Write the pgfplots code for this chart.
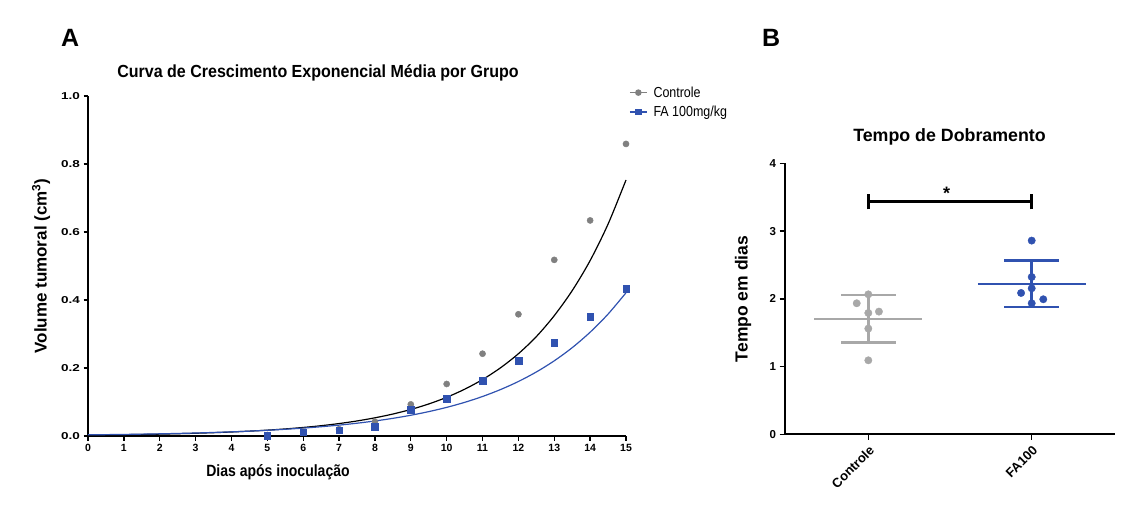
\documentclass[border=0pt]{standalone}
\usepackage{pgfplots}
\pgfplotsset{compat=1.18}
\usepackage{fontspec}
\setmainfont{Liberation Sans}
\newfontfamily\narrowfont{Liberation Sans}[FakeStretch=0.86]
\newfontfamily\titlefont{Liberation Sans}[FakeStretch=0.915]
\newfontfamily\widefont{Liberation Sans}[FakeStretch=1.35]
\definecolor{cgray}{RGB}{128,128,128}
\definecolor{lgray}{RGB}{168,168,168}
\definecolor{cblue}{RGB}{48,82,176}
\begin{document}
\begin{tikzpicture}[x=1pt,y=1pt]
\path (0,0) rectangle (1129,522);
\begin{axis}[at={(88pt,86pt)}, anchor=south west, scale only axis,
  width=538pt, height=340pt, xmin=0, xmax=15, ymin=0, ymax=1,
  axis lines=left, axis line style={-, line width=1.7pt},
  tick align=outside, major tick length=4.5pt, tick style={line width=1.3pt, black},
  xtick={0,...,15}, ytick={0,0.2,0.4,0.6,0.8,1.0},
  clip=false,
  /pgf/number format/assume math mode=true,
  x tick label style={font=\bfseries\fontsize{10.5}{11}\selectfont},
  y tick label style={font=\widefont\bfseries\fontsize{10}{11}\selectfont, /pgf/number format/.cd, fixed, fixed zerofill, precision=1, /tikz/.cd},
  legend style={at={(1.0,1.04)}, anchor=north west, draw=none, fill=none,
    font=\narrowfont\fontsize{14.5}{15}\selectfont, row sep=3.5pt,
    /tikz/every odd column/.append style={column sep=4pt}},
  legend cell align=left,
  legend image code/.code={\draw[#1] (0pt,0pt) -- (17pt,0pt); \draw[#1] plot coordinates {(8.5pt,0pt)};},
]
\addplot[black, line width=1.2pt, smooth, forget plot] coordinates {(0,0.0026)(0.5,0.0031)(1,0.0038)(1.5,0.0046)(2,0.0055)(2.5,0.0067)(3,0.0081)(3.5,0.0098)(4,0.0118)(4.5,0.0143)(5,0.0172)(5.5,0.0208)(6,0.0251)(6.5,0.0303)(7,0.0366)(7.5,0.0442)(8,0.0535)(8.5,0.0646)(9,0.078)(9.5,0.0942)(10,0.1138)(10.5,0.1375)(11,0.166)(11.5,0.2005)(12,0.242)(12.5,0.2923)(13,0.354)(13.5,0.4276)(14,0.516)(14.5,0.6233)(15,0.753)};
\addplot[cblue, line width=1.2pt, smooth, forget plot] coordinates {(0,0.0034)(0.5,0.0040)(1,0.0046)(1.5,0.0055)(2,0.0064)(2.5,0.0075)(3,0.0088)(3.5,0.0104)(4,0.0122)(4.5,0.0143)(5,0.0168)(5.5,0.0198)(6,0.0232)(6.5,0.0273)(7,0.0320)(7.5,0.0376)(8,0.0442)(8.5,0.0519)(9,0.0610)(9.5,0.0717)(10,0.0842)(10.5,0.0989)(11,0.1162)(11.5,0.1365)(12,0.1603)(12.5,0.1883)(13,0.2212)(13.5,0.2598)(14,0.3053)(14.5,0.3586)(15,0.4213)};
\addplot[only marks, mark=*, mark size=3.1pt, cgray, forget plot] coordinates {(5,0.003)(6,0.013)(7,0.02)(8,0.042)(9,0.093)(10,0.153)(11,0.242)(12,0.358)(13,0.518)(14,0.634)(15,0.859)};
\addplot[only marks, mark=square*, mark size=3.3pt, cblue, forget plot] coordinates {(5,0.0)(6,0.011)(7,0.017)(8,0.027)(9,0.077)(10,0.110)(11,0.162)(12,0.222)(13,0.275)(14,0.350)(15,0.433)};
\addlegendimage{cgray, mark=*, mark size=2.6pt, line width=1.3pt}
\addlegendentry{Controle}
\addlegendimage{cblue, mark=square*, mark size=2.6pt, line width=1.3pt}
\addlegendentry{FA 100mg/kg}
\end{axis}
\begin{axis}[at={(785pt,87.7pt)}, anchor=south west, scale only axis,
  width=330pt, height=271pt, xmin=-0.51, xmax=1.51, ymin=0, ymax=4,
  axis lines=left, axis line style={-, line width=1.7pt},
  tick align=outside, major tick length=5.5pt, tick style={line width=1.4pt, black},
  xtick={0,1}, xticklabels={Controle,FA100}, ytick={0,1,2,3,4},
  clip=false,
  /pgf/number format/assume math mode=true,
  y tick label style={font=\bfseries\fontsize{11.5}{12}\selectfont},
  x tick label style={rotate=45, anchor=north east, font=\bfseries\fontsize{13}{13}\selectfont},
]
\addplot[lgray, line width=1.8pt] coordinates {(-0.33,1.702)(0.33,1.702)};
\addplot[lgray, line width=2.6pt] coordinates {(0,1.358)(0,2.057)};
\addplot[lgray, line width=2.6pt] coordinates {(-0.167,2.057)(0.167,2.057)};
\addplot[lgray, line width=2.6pt] coordinates {(-0.167,1.358)(0.167,1.358)};
\addplot[only marks, mark=*, mark size=3.7pt, lgray] coordinates {(0,2.066)(-0.071,1.934)(0,1.791)(0.065,1.811)(0,1.560)(0,1.092)};
\addplot[cblue, line width=1.8pt] coordinates {(0.67,2.224)(1.33,2.224)};
\addplot[cblue, line width=2.6pt] coordinates {(1,1.879)(1,2.568)};
\addplot[cblue, line width=2.6pt] coordinates {(0.833,2.568)(1.167,2.568)};
\addplot[cblue, line width=2.6pt] coordinates {(0.833,1.879)(1.167,1.879)};
\addplot[only marks, mark=*, mark size=3.7pt, cblue] coordinates {(1,2.859)(1,2.322)(1,2.155)(0.935,2.086)(1.071,1.993)(1,1.934)};
\addplot[black, line width=3pt] coordinates {(0,3.43)(1,3.43)};
\addplot[black, line width=3pt] coordinates {(0,3.32)(0,3.55)};
\addplot[black, line width=3pt] coordinates {(1,3.32)(1,3.55)};
\node[font=\bfseries\fontsize{18}{18}\selectfont] at (axis cs:0.48,3.55) {*};
\end{axis}
\node[anchor=base west, inner sep=0, font=\bfseries\fontsize{25}{25}\selectfont] at (61,475) {A};
\node[anchor=base west, inner sep=0, font=\bfseries\fontsize{25}{25}\selectfont] at (762,475) {B};
\node[anchor=base, font=\titlefont\bfseries\fontsize{17.5}{18}\selectfont] at (318,444) {Curva de Crescimento Exponencial Média por Grupo};
\node[anchor=base, font=\narrowfont\bfseries\fontsize{16.3}{17}\selectfont] at (278,45.3) {Dias após inoculação};
\node[rotate=90, font=\bfseries\fontsize{17}{18}\selectfont] at (41,256) {Volume tumoral (cm\textsuperscript{3})};
\node[anchor=base, font=\bfseries\fontsize{17.8}{18}\selectfont] at (949.5,380.3) {Tempo de Dobramento};
\node[rotate=90, font=\bfseries\fontsize{17.5}{18}\selectfont] at (743,223) {Tempo em dias};
\end{tikzpicture}
\end{document}
